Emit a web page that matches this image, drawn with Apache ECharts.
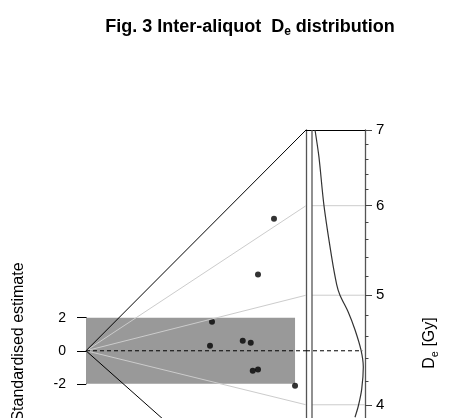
<!DOCTYPE html>
<html>
<head>
<meta charset="utf-8">
<script src="https://cdn.jsdelivr.net/npm/echarts@6/dist/echarts.min.js"></script>
<style>
html, body { margin: 0; background: #fff; }
#chart { width: 450px; height: 418px; }
</style>
</head>
<body>
<div id="chart"></div>
<script>
// aliquots: precision (1/rel. error) and standardised estimate
const precision = [25.38, 23.22, 17.01, 16.74, 21.16, 22.24, 22.51, 23.22, 28.22];
const zValue = [7.98, 4.61, 1.76, 0.30, 0.61, 0.48, -1.21, -1.13, -2.12];

const centralDe = 4.465;
const deLimits = [3, 7];
const rayDe = [4, 5, 6];
const majorDe = [4, 5, 6, 7];
const minorDe = [4.2, 4.4, 4.6, 4.8, 5.2, 5.4, 5.6, 5.8, 6.2, 6.4, 6.6, 6.8];
const zTicks = [-2, 0, 2];

// kernel density estimate (relative)
const kdeDe = [3.9, 3.99, 4.13, 4.32, 4.47, 4.66, 4.83, 5.0, 5.11, 5.4, 6.0, 6.62, 7.0];
const kdeDensity = [0.811, 0.874, 0.938, 0.968, 0.925, 0.811, 0.685, 0.528, 0.466, 0.372, 0.226, 0.132, 0.057];

const xMax = 29.7;          // precision at the end of the rays
const font = 'Liberation Sans, Arial, sans-serif';
const plotTop = 130, plotH = 418 - plotTop;
const pxPerLn = 491;
const gap = 6 / 53;         // space between the two vertical lines, in density units

const lnC = Math.log(centralDe);
const lnTop = Math.log(deLimits[1]);
const lnBottom = lnTop - plotH / pxPerLn;
const zOf = d => xMax * (Math.log(d) - lnC);
const zMax = xMax * (lnTop - lnC);
const zMin = xMax * (lnBottom - lnC);
const zHi = zTicks[zTicks.length - 1], zLo = zTicks[0];
const bandTop = plotTop + (zMax - zHi) / (zMax - zMin) * plotH;
const bandH = (zHi - zLo) / (zMax - zMin) * plotH;

const chart = echarts.init(document.getElementById('chart'));

const series = [];
// grey +-2 band
series.push({
  type: 'custom', xAxisIndex: 0, yAxisIndex: 0, silent: true,
  data: [[0, zLo, Math.max(...precision), zHi]],
  encode: {x: [0, 2], y: [1, 3]},
  renderItem: function (params, api) {
    const p1 = api.coord([api.value(0), api.value(3)]);
    const p2 = api.coord([api.value(2), api.value(1)]);
    return {type: 'rect', shape: {x: p1[0], y: p1[1], width: p2[0] - p1[0], height: p2[1] - p1[1]},
      style: {fill: '#999999'}};
  }
});
rayDe.forEach(function (d) {
  series.push({type: 'line', xAxisIndex: 0, yAxisIndex: 0, symbol: 'none', silent: true,
    data: [[0, 0], [xMax, zOf(d)]], lineStyle: {color: '#cccccc', width: 1}});
  series.push({type: 'line', xAxisIndex: 1, yAxisIndex: 1, symbol: 'none', silent: true,
    data: [[0, Math.log(d)], [1, Math.log(d)]], lineStyle: {color: '#cccccc', width: 1}});
});
deLimits.forEach(function (d) {
  series.push({type: 'line', xAxisIndex: 0, yAxisIndex: 0, symbol: 'none', silent: true,
    data: [[0, 0], [xMax, zOf(d)]], lineStyle: {color: '#000', width: 1}});
});
// central value
series.push({type: 'line', xAxisIndex: 0, yAxisIndex: 0, symbol: 'none', silent: true,
  data: [[0, 0], [xMax, 0]], lineStyle: {color: '#000', width: 1, type: [4, 3]}});
series.push({type: 'line', xAxisIndex: 1, yAxisIndex: 1, symbol: 'none', silent: true,
  data: [[-gap, lnC], [0.95, lnC]], lineStyle: {color: '#000', width: 1, type: [4, 3]}});
// density baseline
series.push({type: 'line', xAxisIndex: 1, yAxisIndex: 1, symbol: 'none', silent: true,
  data: [[0, lnBottom], [0, lnTop]], lineStyle: {color: '#555', width: 1.3}});
// KDE
series.push({type: 'line', xAxisIndex: 1, yAxisIndex: 1, symbol: 'none', silent: true, smooth: 0.3,
  data: kdeDe.map((d, i) => [kdeDensity[i], Math.log(d)]), lineStyle: {color: '#333', width: 1.2}});
// points
series.push({type: 'scatter', xAxisIndex: 0, yAxisIndex: 0, symbolSize: 6, silent: true,
  data: precision.map((p, i) => [p, zValue[i]]), itemStyle: {color: '#000'}});

chart.setOption({
  animation: false,
  backgroundColor: '#fff',
  title: {
    text: 'Fig. 3 Inter-aliquot  D{s|e} distribution',
    left: 245, top: 11, textAlign: 'center',
    textStyle: {fontFamily: font, fontSize: 18, fontWeight: 'bold', color: '#000', lineHeight: 22,
      rich: {s: {fontFamily: font, fontSize: 12, fontWeight: 'bold', color: '#000', lineHeight: 12, verticalAlign: 'bottom'}}}
  },
  grid: [
    {left: 86, top: plotTop, width: 220, height: plotH},
    {left: 306, top: plotTop, width: 59, height: plotH},
    {left: 86, top: bandTop, width: 10, height: bandH}
  ],
  xAxis: [
    {gridIndex: 0, type: 'value', min: 0, max: xMax, show: false},
    {gridIndex: 1, type: 'value', min: -gap, max: 1, position: 'top',
      axisLine: {show: true, onZero: false, lineStyle: {color: '#000', width: 1}},
      axisTick: {show: false}, axisLabel: {show: false}, splitLine: {show: false}},
    {gridIndex: 2, type: 'value', min: 0, max: 1, show: false}
  ],
  yAxis: [
    {gridIndex: 0, type: 'value', min: zMin, max: zMax, show: false},
    {gridIndex: 1, type: 'value', min: lnBottom, max: lnTop, position: 'left',
      axisLine: {show: true, onZero: false, lineStyle: {color: '#555', width: 1.3}},
      axisTick: {show: false}, axisLabel: {show: false}, splitLine: {show: false}},
    {gridIndex: 2, type: 'value', min: zLo, max: zHi, interval: 2, position: 'left',
      axisLine: {show: true, onZero: false, lineStyle: {color: '#000', width: 1}},
      axisTick: {show: true, length: 9, lineStyle: {color: '#000'}},
      axisLabel: {fontFamily: font, fontSize: 14, color: '#000', margin: 20},
      splitLine: {show: false}},
    {gridIndex: 1, type: 'value', min: lnBottom, max: lnTop, position: 'right',
      axisLine: {show: true, onZero: false, lineStyle: {color: '#555', width: 1.3}},
      axisTick: {show: true, length: 7, customValues: majorDe.map(Math.log), lineStyle: {color: '#444'}},
      axisLabel: {fontFamily: font, fontSize: 15, color: '#000', margin: 11,
        customValues: majorDe.map(Math.log), formatter: v => String(Math.round(Math.exp(v)))},
      splitLine: {show: false}},
    {gridIndex: 1, type: 'value', min: lnBottom, max: lnTop, position: 'right',
      axisLine: {show: false, onZero: false},
      axisTick: {show: true, length: 3.5, customValues: minorDe.map(Math.log), lineStyle: {color: '#444'}},
      axisLabel: {show: false}, splitLine: {show: false}}
  ],
  graphic: [
    {type: 'text', x: 19, y: 342, rotation: Math.PI / 2, silent: true,
      style: {text: 'Standardised estimate', fontFamily: font, fontSize: 16, fill: '#000',
        align: 'center', verticalAlign: 'middle'}},
    {type: 'text', x: 430, y: 343, rotation: Math.PI / 2, silent: true,
      style: {text: 'D{s|e} [Gy]', fontFamily: font, fontSize: 16, fill: '#000', lineHeight: 20,
        align: 'center', verticalAlign: 'middle',
        rich: {s: {fontFamily: font, fontSize: 11, lineHeight: 11, fill: '#000', verticalAlign: 'bottom'}}}}
  ],
  series: series
});
</script>
</body>
</html>
